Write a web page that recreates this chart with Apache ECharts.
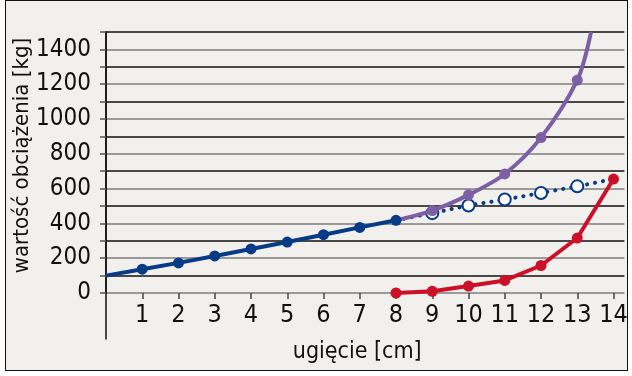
<!DOCTYPE html>
<html>
<head>
<meta charset="utf-8">
<script src="https://cdn.jsdelivr.net/npm/echarts@6/dist/echarts.min.js"></script>
<style>
  html, body { margin: 0; padding: 0; background: #fff; }
  #wrap { position: relative; width: 632px; height: 376px; }
  #frame {
    position: absolute; left: 5px; top: 0; width: 621px; height: 369px;
    border: 1.5px solid #111; background: #f1f0ec;
  }
  #chart { position: absolute; left: 0; top: 0; width: 632px; height: 376px; }
</style>
</head>
<body>
<div id="wrap">
  <div id="frame"></div>
  <div id="chart"></div>
</div>
<script>
// ugięcie [cm] -> wartość obciążenia [kg]
const xTicks = [1, 2, 3, 4, 5, 6, 7, 8, 9, 10, 11, 12, 13, 14];
const yLabels = [0, 200, 400, 600, 800, 1000, 1200, 1400];

// niebieska linia (0..8 cm)
const blueX = [0, 1, 2, 3, 4, 5, 6, 7, 8];
const blueY = [100, 137, 173, 213, 253, 293, 335, 377, 418];

// fioletowa krzywa (8..13 cm, potem wychodzi poza wykres)
const purpleX = [8, 9, 10, 11, 12, 13, 13.38];
const purpleY = [418, 474, 564, 684, 893, 1223, 1500];

// kropkowana linia z pustymi kółkami
const dottedX = [8, 9, 10, 11, 12, 13, 14];
const dottedY = [418, 459, 503, 537, 575, 613, 655];

// czerwona linia
const redX = [8, 9, 10, 11, 12, 13, 14];
const redY = [0, 10, 40, 72, 158, 316, 655];

const NAVY = '#073b86';
const PURPLE = '#7d5fa6';
const RED = '#cc1029';
const FONT = '"DejaVu Sans Condensed", "Liberation Sans Narrow", sans-serif';
// ECharts skleja font jako "style weight size family" - 'condensed' wchodzi jako font-stretch
const TXT = { fontFamily: FONT, fontWeight: 'condensed', color: '#111' };

const pairs = (xs, ys) => xs.map((x, i) => [x, ys[i]]);

let mychart = echarts.init(document.getElementById('chart'));

let option = {
    animation: false,
    textStyle: { fontFamily: FONT },
    grid: [
        { left: 106, top: 32, right: 7.6, bottom: 83, outerBoundsMode: 'none', containLabel: false },
        // tylko po to, żeby oś Y schodziła poniżej zera
        { left: 106, top: 32, right: 7.6, bottom: 37, outerBoundsMode: 'none', containLabel: false }
    ],
    xAxis: [
        {
            type: 'value', min: 0, max: 14.3, interval: 1,
            name: 'ugięcie [cm]', nameLocation: 'middle', nameGap: 48, nameMoveOverlap: false,
            nameTextStyle: Object.assign({ fontSize: 23, padding: [0, 16, 0, 0] }, TXT),
            axisLine: { show: false },
            axisTick: { show: true, length: 6, customValues: xTicks, lineStyle: { color: '#444', width: 1.5 } },
            axisLabel: Object.assign({ customValues: xTicks, fontSize: 25, margin: 10 }, TXT),
            splitLine: { show: false }
        },
        { type: 'value', gridIndex: 1, min: 0, max: 14.3, show: false }
    ],
    yAxis: [
        {
            type: 'value', min: 0, max: 1500, interval: 100,
            name: 'wartość obciążenia [kg]', nameLocation: 'middle', nameRotate: 90,
            nameGap: 73, nameMoveOverlap: false,
            nameTextStyle: Object.assign({ fontSize: 22, padding: [0, 0, 0, 14] }, TXT),
            axisLine: { show: true, onZero: false, lineStyle: { color: '#111', width: 1.5 } },
            axisTick: { show: true, length: 6, lineStyle: { color: '#555', width: 1.5 } },
            axisLabel: Object.assign({
                fontSize: 24, margin: 15,
                formatter: v => (yLabels.indexOf(v) >= 0 ? String(v) : '')
            }, TXT),
            splitLine: { show: true, lineStyle: { color: ['#7e7e7c', '#111111'], width: 1.6 } }
        },
        {
            type: 'value', gridIndex: 1, min: 0, max: 1,
            axisLine: { show: true, onZero: false, lineStyle: { color: '#111', width: 1.5 } },
            axisTick: { show: false }, axisLabel: { show: false }, splitLine: { show: false }
        }
    ],
    series: [
        {
            name: 'kropkowana', type: 'line', z: 2,
            data: pairs(dottedX, dottedY).map((p, i, a) =>
                (i === 0 || i === a.length - 1) ? { value: p, symbol: 'none' } : p),
            symbol: 'circle', symbolSize: 12,
            itemStyle: { color: '#fff', borderColor: NAVY, borderWidth: 2 },
            lineStyle: { color: NAVY, width: 4, type: [0.1, 8], cap: 'round' }
        },
        {
            name: 'fioletowa', type: 'line', z: 3,
            data: pairs(purpleX, purpleY).map((p, i, a) =>
                (i === 0 || i === a.length - 1) ? { value: p, symbol: 'none' } : p),
            smooth: 0.3,
            symbol: 'circle', symbolSize: 11,
            itemStyle: { color: PURPLE },
            lineStyle: { color: PURPLE, width: 4 }
        },
        {
            name: 'czerwona', type: 'line', z: 4,
            data: pairs(redX, redY),
            symbol: 'circle', symbolSize: 11,
            itemStyle: { color: RED },
            lineStyle: { color: RED, width: 4 }
        },
        {
            name: 'niebieska', type: 'line', z: 5,
            data: pairs(blueX, blueY).map((p, i) => i === 0 ? { value: p, symbol: 'none' } : p),
            symbol: 'circle', symbolSize: 11,
            itemStyle: { color: NAVY },
            lineStyle: { color: NAVY, width: 4 }
        }
    ]
};
option && mychart.setOption(option);
</script>
</body>
</html>
